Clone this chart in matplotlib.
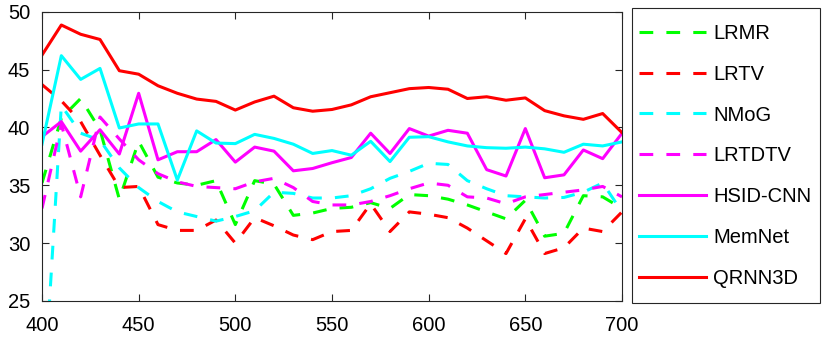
import numpy as np
import matplotlib as mpl
mpl.use('Agg')
import matplotlib.pyplot as plt
from matplotlib.patches import Rectangle

# wavelength (nm) and PSNR per band
wavelength = list(range(400, 701, 10))

lrmr = [35.2, 40.8, 42.5, 39.8, 33.8, 38.8, 35.7, 35.2, 35.0, 35.4,
        31.6, 35.4, 35.1, 32.4, 32.6, 33.0, 33.1, 33.5, 33.0, 34.2,
        34.1, 33.8, 33.3, 32.7, 32.1, 33.7, 30.6, 30.85, 34.1, 34.0, 33.0]
lrtv = [43.7, 42.3, 40.5, 37.6, 34.8, 34.9, 31.6, 31.1, 31.1, 32.0,
        30.0, 32.2, 31.5, 30.7, 30.3, 31.0, 31.1, 33.4, 31.0, 32.7,
        32.5, 32.2, 31.3, 30.2, 29.1, 32.1, 29.1, 29.6, 31.3, 31.0, 32.7]
nmog = [14.2, 41.9, 39.5, 38.9, 36.5, 34.8, 33.6, 32.7, 32.3, 31.9,
        32.3, 32.8, 34.4, 34.3, 33.9, 33.9, 34.1, 34.7, 35.6, 36.2,
        36.9, 36.8, 35.4, 34.7, 34.1, 34.0, 33.9, 33.95, 34.4, 35.2, 32.7]
lrtdtv = [33.0, 40.3, 34.0, 40.9, 39.0, 37.2, 36.0, 35.3, 34.9, 34.8,
          34.7, 35.3, 35.6, 34.8, 33.6, 33.3, 33.3, 33.6, 34.1, 34.7,
          35.2, 35.0, 34.0, 33.9, 33.4, 34.0, 34.2, 34.4, 34.6, 34.9, 34.0]
hsid_cnn = [39.2, 40.5, 37.95, 39.8, 37.7, 42.95, 37.2, 37.9, 37.9, 38.95,
            37.0, 38.3, 37.95, 36.25, 36.45, 36.95, 37.4, 39.5, 37.75, 39.9,
            39.25, 39.75, 39.5, 36.35, 35.8, 39.9, 35.65, 35.9, 38.05, 37.3, 39.5]
memnet = [38.55, 46.2, 44.15, 45.1, 39.95, 40.3, 40.3, 35.45, 39.7, 38.65,
          38.6, 39.4, 39.05, 38.55, 37.75, 38.0, 37.6, 38.8, 37.05, 39.15,
          39.2, 38.75, 38.4, 38.25, 38.2, 38.3, 38.15, 37.85, 38.55, 38.4, 38.75]
qrnn3d = [46.25, 48.85, 48.05, 47.6, 44.9, 44.6, 43.6, 42.95, 42.45, 42.25,
          41.5, 42.2, 42.7, 41.7, 41.4, 41.55, 41.95, 42.65, 43.0, 43.35,
          43.45, 43.3, 42.5, 42.65, 42.35, 42.55, 41.45, 41.0, 40.7, 41.2, 39.55]

series = [
    ('LRMR', lrmr, '#00ff00', '--'),
    ('LRTV', lrtv, '#ff0000', '--'),
    ('NMoG', nmog, '#00ffff', '--'),
    ('LRTDTV', lrtdtv, '#ff00ff', '--'),
    ('HSID-CNN', hsid_cnn, '#ff00ff', '-'),
    ('MemNet', memnet, '#00ffff', '-'),
    ('QRNN3D', qrnn3d, '#ff0000', '-'),
]

plt.rcParams['font.family'] = ['Liberation Sans', 'DejaVu Sans']
plt.rcParams['font.size'] = 14.5

W, H = 830, 339
fig = plt.figure(figsize=(W / 100, H / 100), dpi=100)
ax = fig.add_axes([42 / W, 1 - 301 / H, 580 / W, 289.3 / H])

for name, vals, color, ls in series:
    line, = ax.plot(wavelength, vals, color=color, linestyle=ls, linewidth=2.2, label=name)
    if ls == '--':
        line.set_dashes((4.5, 4.3))

ax.set_xlim(400, 700)
ax.set_ylim(25, 50)
ax.set_xticks(range(400, 701, 50))
ax.set_yticks(range(25, 51, 5))
ax.tick_params(direction='in', top=True, right=True, length=5, width=0.8,
               colors='#262626', labelcolor='black', labelsize=14.5)
ax.tick_params(axis='x', pad=11)
ax.tick_params(axis='y', pad=8.5)
for sp in ax.spines.values():
    sp.set_color('#262626')
    sp.set_linewidth(0.8)

# legend box drawn by hand so the frame and entries can be placed separately
fig.patches.append(Rectangle((632 / W, 1 - 303 / H), 188 / W, 295 / H,
                             transform=fig.transFigure, fill=False,
                             edgecolor='#262626', linewidth=0.8))
leg = fig.legend(loc='upper left', bbox_to_anchor=(639 / W, 1 - 23.6 / H),
                 frameon=False, handlelength=3.32, handletextpad=0.35,
                 labelspacing=1.09, borderpad=0, borderaxespad=0)

fig.savefig('out.png', dpi=100)
